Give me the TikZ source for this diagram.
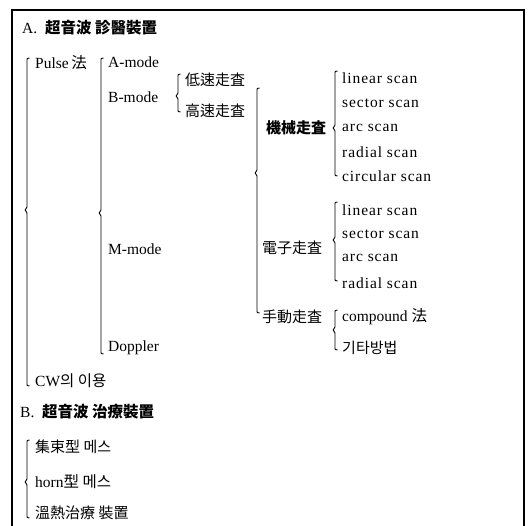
\documentclass[tikz,border=0pt]{standalone}
\usepackage{fontspec}
\setmainfont{Liberation Serif}
\newfontfamily\cjk{Noto Sans CJK KR}
\newfontfamily\scanfont[LetterSpace=6]{Liberation Serif}
\begin{document}
\begin{tikzpicture}[x=1pt,y=-1pt,
  lbl/.style={anchor=west,inner sep=0pt,font=\fontsize{15.5}{18}\selectfont},
  cjklbl/.style={anchor=west,inner sep=0pt,font=\fontsize{15}{18}\cjk},
  scan/.style={lbl,font=\fontsize{15.5}{18}\scanfont},
  brk/.style={line width=0.9pt,black},
  frame/.style={line width=1.1pt,black}]
\useasboundingbox (0,0) rectangle (528,526);
% frame (open at bottom)
\draw[frame] (12,526) -- (12,10) -- (524,10) -- (524,526);
% brace: #1=x, #2=top, #3=mid, #4=bottom
\newcommand{\mybrk}[4]{%
  \draw[brk] (#1+2.5,#2) .. controls (#1,#2) .. (#1,#2+4) -- (#1,#3-3) -- (#1-1.8,#3) -- (#1,#3+3) -- (#1,#4-4) .. controls (#1,#4) .. (#1+2.5,#4);}
\node[lbl] (A) at (22,28) {A.\ \ {\cjk\bfseries 超音波\ 診醫裝置}};
\node[lbl] (pulse) at (35,63) {Pulse\,{\cjk 法}};
\node[lbl] (cw) at (35,381) {CW{\cjk 의 이용}};
\mybrk{27}{58}{210}{386}
\node[lbl] (amode) at (108,62) {A-mode};
\node[lbl] (bmode) at (108,97) {B-mode};
\node[lbl] (mmode) at (108,249) {M-mode};
\node[lbl] (doppler) at (108,348) {Doppler};
\mybrk{101}{58}{213}{354}
\node[cjklbl] (low) at (185,80) {低速走査};
\node[cjklbl] (high) at (185,111) {高速走査};
\mybrk{178}{74}{96}{112}
\node[cjklbl] (mech) at (266,128) {\bfseries 機械走査};
\node[cjklbl] (elec) at (262,248) {電子走査};
\node[cjklbl] (man) at (262,317) {手動走査};
\mybrk{257}{88}{173}{313}
\node[scan] (m1) at (342,78) {linear scan};
\node[scan] (m2) at (342,103) {sector scan};
\node[scan] (m3) at (342,128) {arc scan};
\node[scan] (m4) at (342,152) {radial scan};
\node[scan] (m5) at (342,176) {circular scan};
\mybrk{335}{71}{128}{176}
\node[scan] (e1) at (342,210) {linear scan};
\node[scan] (e2) at (342,234) {sector scan};
\node[scan] (e3) at (342,258) {arc scan};
\node[scan] (e4) at (342,283) {radial scan};
\mybrk{335}{202}{240}{281}
\node[lbl] (c1) at (342,317) {compound\ {\cjk 法}};
\node[cjklbl] (c2) at (342,348) {기타방법};
\mybrk{335}{310}{330}{350}
\node[lbl] (B) at (20,412) {B.\ \ {\cjk\bfseries 超音波\ 治療裝置}};
\node[cjklbl] (b1) at (35,447) {集束型\ 메스};
\node[lbl] (b2) at (35,482) {horn{\cjk 型\ 메스}};
\node[cjklbl] (b3) at (35,513) {溫熱治療\ 裝置};
\mybrk{27}{440}{482}{518}
\end{tikzpicture}
\end{document}
